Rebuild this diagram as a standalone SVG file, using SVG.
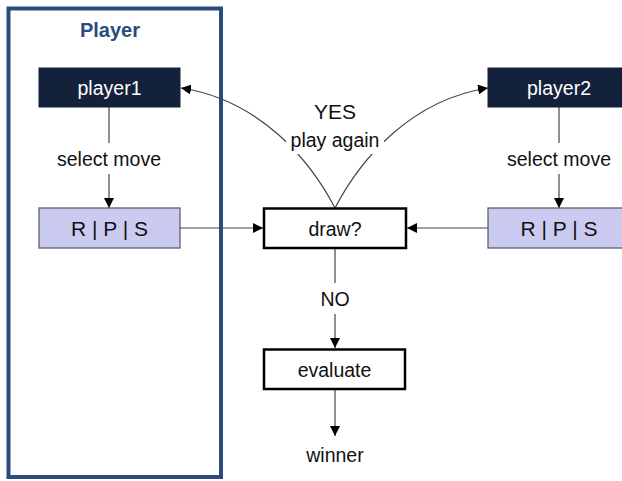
<svg xmlns="http://www.w3.org/2000/svg" width="622" height="481" viewBox="0 0 622 481">
<defs>
<marker id="ah" viewBox="0 0 10 10" refX="10" refY="5" markerWidth="10" markerHeight="10" markerUnits="userSpaceOnUse" orient="auto">
<path d="M0,0 L10,5 L0,10 z" fill="#000"/>
</marker>
<style>
text{font-family:"Liberation Sans",Arial,sans-serif;font-size:19.5px;text-anchor:middle;dominant-baseline:central;fill:#111}
.dark rect{fill:#13213b;stroke:#13213b}
.dark text{fill:#fff}
.rps rect{fill:#cbcbf1;stroke:#555;stroke-width:1.2}
.rps text{font-size:21px}
.box rect{fill:#fff;stroke:#000;stroke-width:2.5}
.c{fill:none;stroke:#444;stroke-width:1.2}
.lbl{fill:#fff;stroke:none}
</style>
</defs>
<g id="frame">
<rect x="8.5" y="8.5" width="212.5" height="468.5" fill="none" stroke="#2b4a7e" stroke-width="4"/>
<text x="110" y="30" style="font-weight:bold;font-size:20px;fill:#2b4a7e">Player</text>
</g>
<g id="connectors">
<path class="c" d="M335,208 C310,160 260,100 181,88" marker-end="url(#ah)"/>
<path class="c" d="M335,208 C360,160 410,100 488,88" marker-end="url(#ah)"/>
<rect class="lbl" x="286" y="96" width="98" height="58"/>
<text x="335" y="111" style="font-size:21px">YES</text>
<text x="335" y="140">play again</text>
<path class="c" d="M109,107 V143"/>
<path class="c" d="M109,174 V208" marker-end="url(#ah)"/>
<text x="109" y="159">select move</text>
<path class="c" d="M559,107 V143"/>
<path class="c" d="M559,174 V208" marker-end="url(#ah)"/>
<text x="559" y="159">select move</text>
<path class="c" d="M180,228 H263" marker-end="url(#ah)"/>
<path class="c" d="M488,228 H407" marker-end="url(#ah)"/>
<path class="c" d="M335,249 V283"/>
<path class="c" d="M335,314 V348" marker-end="url(#ah)"/>
<text x="335" y="299">NO</text>
<path class="c" d="M335,390 V436" marker-end="url(#ah)"/>
<text x="335" y="455">winner</text>
</g>
<g id="player1" class="dark">
<rect x="39" y="68" width="141" height="39"/>
<text x="109.5" y="87.5">player1</text>
</g>
<g id="player2" class="dark">
<rect x="488" y="68" width="142" height="39"/>
<text x="559" y="87.5">player2</text>
</g>
<g id="rps1" class="rps">
<rect x="39" y="208" width="141" height="40"/>
<text x="109.5" y="228">R | P | S</text>
</g>
<g id="rps2" class="rps">
<rect x="488" y="208" width="142" height="40"/>
<text x="559" y="228">R | P | S</text>
</g>
<g id="draw" class="box">
<rect x="264" y="208.5" width="142" height="39.5"/>
<text x="335" y="229">draw?</text>
</g>
<g id="evaluate" class="box">
<rect x="264" y="349.5" width="141" height="39.5"/>
<text x="334.5" y="370">evaluate</text>
</g>
</svg>
